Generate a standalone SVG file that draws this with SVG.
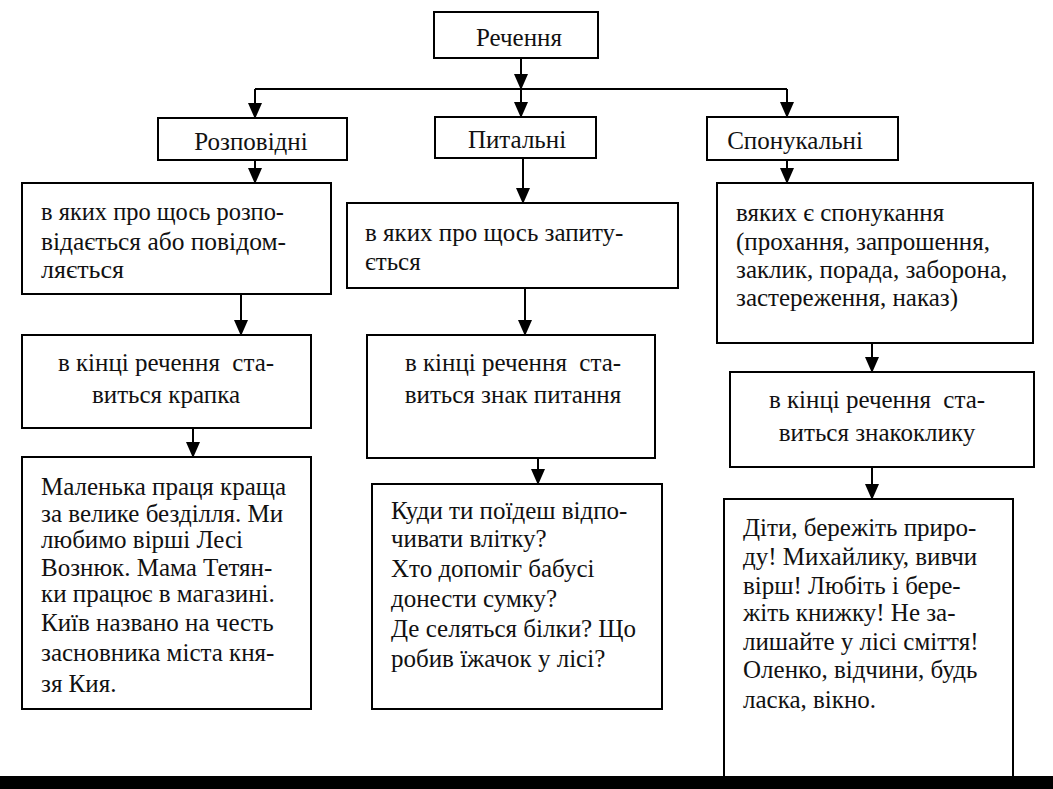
<svg xmlns="http://www.w3.org/2000/svg" width="1053" height="789" viewBox="0 0 1053 789">
<style>
.box{fill:#fff;stroke:#000;stroke-width:2}
.t{font-family:"Liberation Serif","DejaVu Serif",serif;font-size:25px;fill:#111;white-space:pre}
.h{font-family:"Liberation Serif","DejaVu Serif",serif;font-size:25px;fill:#111}
.c{text-anchor:middle}
.ln{stroke:#000;stroke-width:2;fill:none}
</style>
<defs>
<marker id="a" markerUnits="userSpaceOnUse" markerWidth="16" markerHeight="14" refX="15" refY="7" orient="auto" viewBox="0 0 16 14">
<path d="M0,0 L16,7 L0,14 Z" fill="#000"/>
</marker>
</defs>
<rect width="1053" height="789" fill="#fff"/>
<g id="connectors">
<path class="ln" d="M521,58 V89" marker-end="url(#a)"/>
<path class="ln" d="M255,89 H787"/>
<path class="ln" d="M255,89 V118" marker-end="url(#a)"/>
<path class="ln" d="M521,89 V117" marker-end="url(#a)"/>
<path class="ln" d="M787,89 V117" marker-end="url(#a)"/>
<path class="ln" d="M255,160 V183" marker-end="url(#a)"/>
<path class="ln" d="M523,158 V203" marker-end="url(#a)"/>
<path class="ln" d="M787,160 V183" marker-end="url(#a)"/>
<path class="ln" d="M241,289 V335" marker-end="url(#a)"/>
<path class="ln" d="M525,288 V335" marker-end="url(#a)"/>
<path class="ln" d="M872,343 V372" marker-end="url(#a)"/>
<path class="ln" d="M193,425 V457" marker-end="url(#a)"/>
<path class="ln" d="M538,456 V484" marker-end="url(#a)"/>
<path class="ln" d="M872,467 V499" marker-end="url(#a)"/>
</g>
<g id="n-rechennia">
<rect class="box" x="434" y="12" width="164" height="46"/>
<text class="h c" x="519" y="46">Речення</text>
</g>
<g id="n-rozpovidni">
<rect class="box" x="158" y="118" width="189" height="42"/>
<text class="h c" x="251" y="150">Розповідні</text>
</g>
<g id="n-pytalni">
<rect class="box" x="435" y="117" width="161" height="41"/>
<text class="h c" x="517" y="148">Питальні</text>
</g>
<g id="n-sponukalni">
<rect class="box" x="707" y="117" width="191" height="43"/>
<text class="h c" x="795" y="149">Спонукальні</text>
</g>
<g id="n-l2">
<rect class="box" x="22" y="183" width="309" height="111"/>
<text class="t" x="41" y="220" textLength="243" lengthAdjust="spacingAndGlyphs">в яких про щось розпо-</text>
<text class="t" x="41" y="250" textLength="245" lengthAdjust="spacingAndGlyphs">відається або повідом-</text>
<text class="t" x="41" y="278" textLength="83" lengthAdjust="spacingAndGlyphs">ляється</text>
</g>
<g id="n-m2">
<rect class="box" x="347" y="203" width="331" height="85"/>
<text class="t" x="365" y="241">в яких про щось запиту-</text>
<text class="t" x="365" y="270">ється</text>
</g>
<g id="n-r2">
<rect class="box" x="717" y="183" width="316" height="160"/>
<text class="t" x="736" y="221">вяких є спонукання</text>
<text class="t" x="736" y="250">(прохання, запрошення,</text>
<text class="t" x="736" y="278">заклик, порада, заборона,</text>
<text class="t" x="736" y="306">застереження, наказ)</text>
</g>
<g id="n-l3">
<rect class="box" x="22" y="335" width="289" height="93"/>
<text class="t c" x="166" y="371" xml:space="preserve">в кінці речення  ста-</text>
<text class="t c" x="166" y="403">виться крапка</text>
</g>
<g id="n-m3">
<rect class="box" x="367" y="335" width="288" height="123"/>
<text class="t c" x="513" y="371" xml:space="preserve">в кінці речення  ста-</text>
<text class="t c" x="513" y="403">виться знак питання</text>
</g>
<g id="n-r3">
<rect class="box" x="730" y="372" width="304" height="95"/>
<text class="t c" x="877" y="408" xml:space="preserve">в кінці речення  ста-</text>
<text class="t c" x="877" y="441">виться знакоклику</text>
</g>
<g id="n-l4">
<rect class="box" x="22" y="457" width="289" height="252"/>
<text class="t" x="41" y="495">Маленька праця краща</text>
<text class="t" x="41" y="522">за велике безділля. Ми</text>
<text class="t" x="41" y="548">любимо вірші Лесі</text>
<text class="t" x="41" y="576">Вознюк. Мама Тетян-</text>
<text class="t" x="41" y="602">ки працює в магазині.</text>
<text class="t" x="41" y="631">Київ названо на честь</text>
<text class="t" x="41" y="661">засновника міста кня-</text>
<text class="t" x="41" y="692">зя Кия.</text>
</g>
<g id="n-m4">
<rect class="box" x="372" y="484" width="290" height="225"/>
<text class="t" x="391" y="519">Куди ти поїдеш відпо-</text>
<text class="t" x="391" y="547">чивати влітку?</text>
<text class="t" x="391" y="577">Хто допоміг бабусі</text>
<text class="t" x="391" y="607">донести сумку?</text>
<text class="t" x="391" y="637">Де селяться білки? Що</text>
<text class="t" x="391" y="667">робив їжачок у лісі?</text>
</g>
<g id="n-r4">
<rect class="box" x="724" y="499" width="289" height="300"/>
<text class="t" x="743" y="536">Діти, бережіть приро-</text>
<text class="t" x="743" y="565">ду! Михайлику, вивчи</text>
<text class="t" x="743" y="594">вірш! Любіть і бере-</text>
<text class="t" x="743" y="621">жіть книжку! Не за-</text>
<text class="t" x="743" y="650">лишайте у лісі сміття!</text>
<text class="t" x="743" y="678">Оленко, відчини, будь</text>
<text class="t" x="743" y="708">ласка, вікно.</text>
</g>
<rect x="0" y="776" width="1053" height="13" fill="#000"/>
</svg>
